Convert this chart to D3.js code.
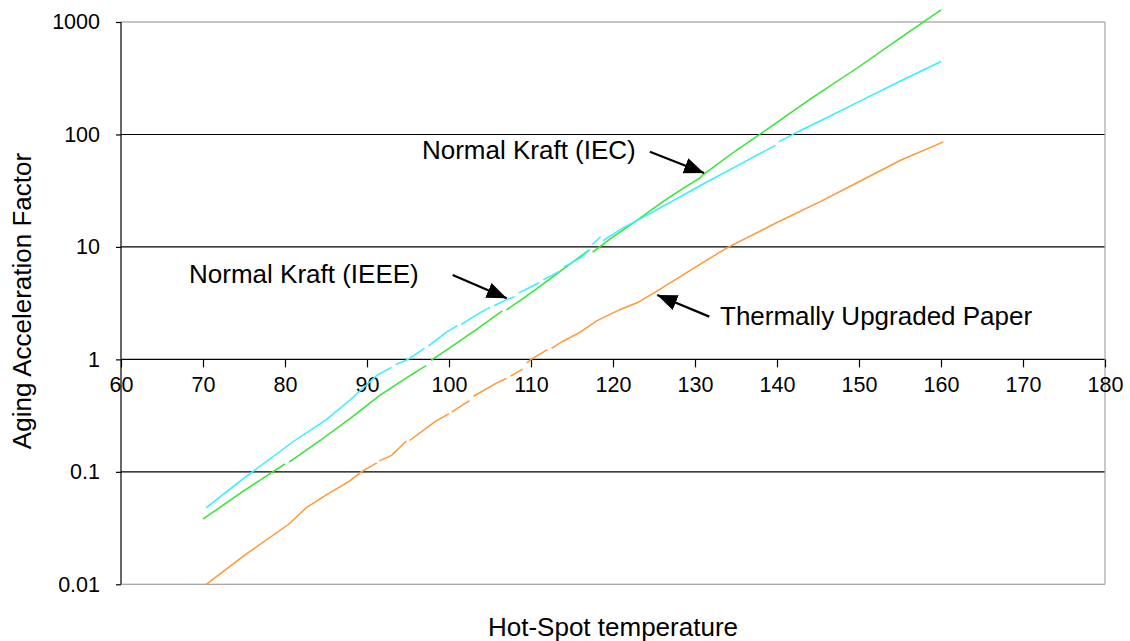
<!DOCTYPE html>
<html>
<head>
<meta charset="utf-8">
<script src="https://cdn.jsdelivr.net/npm/d3@7"></script>
<style>
  html, body { margin: 0; padding: 0; background: #fff; }
  svg { display: block; font-family: "Liberation Sans", Arial, sans-serif; }
</style>
</head>
<body>
<svg id="chart" width="1130" height="641"></svg>
<script>
// values; null = break in the line
const iecTemp  = [70, 75, 80, 80.2, 80.5, 84.3, 88, 91.6, 95, 97.2, 97.5, 97.8, 100, 103.8, 106.5, 106.8, 107, 110, 114, 117, 117.3, 117.5, 120, 123.3, 126, 128.5, 130.6, 131, 135, 137.9, 140, 144, 150, 155, 160];
const iecValue = [0.038, 0.068, 0.118, null, 0.122, 0.19, 0.30, 0.48, 0.70, 0.88, null, 0.98, 1.25, 1.95, 2.7, null, 2.75, 3.9, 6.4, 9.3, null, 9.0, 12.3, 18, 25, 33, 41, 44, 72, 100, 128, 205, 400, 720, 1280];

const ieeeTemp  = [70.4, 75, 81.2, 85, 88, 91.2, 93, 93.2, 93.5, 95, 97, 97.2, 97.5, 99.7, 101, 101.2, 101.5, 103.8, 105, 105.2, 105.5, 107, 108, 108.2, 108.5, 111, 111.2, 111.5, 113.5, 113.7, 114, 116, 117.2, 117.3, 117.5, 118.5, 118.6, 118.8, 121, 124.5, 130.6, 135, 139.8, 140, 140.2, 142.8, 145.2, 150, 155, 160];
const ieeeValue = [0.048, 0.088, 0.19, 0.29, 0.44, 0.72, 0.85, null, 0.9, 1.0, 1.25, null, 1.32, 1.75, 2.0, null, 2.05, 2.6, 2.9, null, 3.0, 3.4, 3.6, null, 3.9, 4.8, null, 5.1, 6.1, null, 6.6, 8.0, 9.5, null, 10.5, 12.3, null, 11.4, 14.5, 19.8, 35, 52, 80, null, 86, 108, 131, 196, 297, 445];

const tupTemp  = [70.4, 75, 80.4, 82.6, 85, 87.9, 89.3, 91.2, 91.3, 91.5, 93, 94.8, 95, 95.2, 98.3, 100, 100.1, 100.3, 102.5, 102.7, 103, 105.5, 107, 107.2, 107.5, 109, 109.2, 109.5, 110, 112, 112.2, 112.5, 113.9, 116, 118, 120.9, 123, 125.7, 130.6, 133.9, 140, 145.4, 150, 155, 160.3];
const tupValue = [0.010, 0.018, 0.034, 0.048, 0.062, 0.083, 0.10, 0.12, null, 0.125, 0.14, 0.188, null, 0.19, 0.28, 0.33, null, 0.34, 0.43, null, 0.47, 0.6, 0.68, null, 0.71, 0.82, null, 0.93, 1.0, 1.22, null, 1.25, 1.45, 1.75, 2.2, 2.78, 3.2, 4.2, 7.0, 9.8, 16.5, 25.5, 38, 58.7, 86];

const xTicks = [60, 70, 80, 90, 100, 110, 120, 130, 140, 150, 160, 170, 180];
const yTicks = [0.01, 0.1, 1, 10, 100, 1000];

const seriesNames  = ["Normal Kraft (IEC)", "Normal Kraft (IEEE)", "Thermally Upgraded Paper"];
const seriesColors = ["#33e633", "#33f0ff", "#ff9933"];

// annotation anchors in data units: text at (t, v), arrow from (t, v) to (t, v)
const labelAt = [[96.7, 60.5], [68.3, 4.81], [133.05, 2.02]];
const arrowFrom = [[124.5, 70.3], [100.45, 5.62], [131.74, 2.40]];
const arrowTo   = [[131.1, 45.4], [107.04, 3.49], [125.4, 3.74]];

const svg = d3.select("#chart");
const x = d3.scaleLinear().domain([60, 180]).range([121, 1105]);
const y = d3.scaleLog().domain([0.01, 1000]).range([584.3, 22]);

// plot frame + gridlines
const grid = svg.append("g");
grid.selectAll("line").data(yTicks).join("line")
  .attr("x1", x(60)).attr("x2", x(180))
  .attr("y1", d => y(d)).attr("y2", d => y(d))
  .attr("stroke", d => (d === 1000 || d === 0.01) ? "#8a8a8a" : "#000")
  .attr("stroke-width", 1.1);
grid.append("line")
  .attr("x1", x(180)).attr("x2", x(180)).attr("y1", y(1000)).attr("y2", y(0.01))
  .attr("stroke", "#a6a6a6").attr("stroke-width", 1.2);

// y axis
const yAxis = svg.append("g").attr("transform", `translate(${x(60)},0)`)
  .call(d3.axisLeft(y).tickValues(yTicks).tickFormat(d => String(d)).tickSize(5).tickPadding(16));
yAxis.select(".domain").attr("stroke", "#000").attr("stroke-width", 1.2).attr("d", `M0,${y(1000)}V${y(0.01)}`);
yAxis.selectAll(".tick line").attr("stroke", "#000").attr("stroke-width", 1.2);
yAxis.selectAll(".tick text").attr("font-size", 21.5).attr("font-family", "Liberation Sans, Arial, sans-serif").attr("fill", "#000");

// x axis crossing at 1
const xAxis = svg.append("g").attr("transform", `translate(0,${y(1)})`)
  .call(d3.axisBottom(x).tickValues(xTicks).tickSize(8).tickPadding(9));
xAxis.select(".domain").remove();
xAxis.selectAll(".tick line").attr("stroke", "#000").attr("stroke-width", 1.2);
xAxis.selectAll(".tick text").attr("font-size", 21.5).attr("font-family", "Liberation Sans, Arial, sans-serif").attr("fill", "#000");

// series
const line = d3.line().defined(d => d[1] != null).x(d => x(d[0])).y(d => y(d[1]));
const series = [
  d3.zip(iecTemp, iecValue),
  d3.zip(ieeeTemp, ieeeValue),
  d3.zip(tupTemp, tupValue)
];
svg.append("g").selectAll("path").data(series).join("path")
  .attr("d", line)
  .attr("fill", "none")
  .attr("stroke", (d, i) => seriesColors[i])
  .attr("stroke-width", 1.5);

// arrows + labels
svg.append("defs").append("marker")
  .attr("id", "head").attr("markerUnits", "userSpaceOnUse")
  .attr("viewBox", "0 0 20 16").attr("refX", 20).attr("refY", 8)
  .attr("markerWidth", 20).attr("markerHeight", 16).attr("orient", "auto")
  .append("path").attr("d", "M0,0L20,8L0,16Z").attr("fill", "#000");

svg.append("g").selectAll("line").data(arrowFrom).join("line")
  .attr("x1", d => x(d[0])).attr("y1", d => y(d[1]))
  .attr("x2", (d, i) => x(arrowTo[i][0])).attr("y2", (d, i) => y(arrowTo[i][1]))
  .attr("stroke", "#000").attr("stroke-width", 2.2)
  .attr("marker-end", "url(#head)");

svg.append("g").selectAll("text").data(seriesNames).join("text")
  .attr("x", (d, i) => x(labelAt[i][0])).attr("y", (d, i) => y(labelAt[i][1]))
  .attr("font-size", 26).text(d => d);

// axis titles
svg.append("text").attr("x", 613).attr("y", 636).attr("text-anchor", "middle")
  .attr("font-size", 26).text("Hot-Spot temperature");
svg.append("text").attr("transform", "translate(31,301) rotate(-90)").attr("text-anchor", "middle")
  .attr("font-size", 26).text("Aging Acceleration Factor");
</script>
</body>
</html>
